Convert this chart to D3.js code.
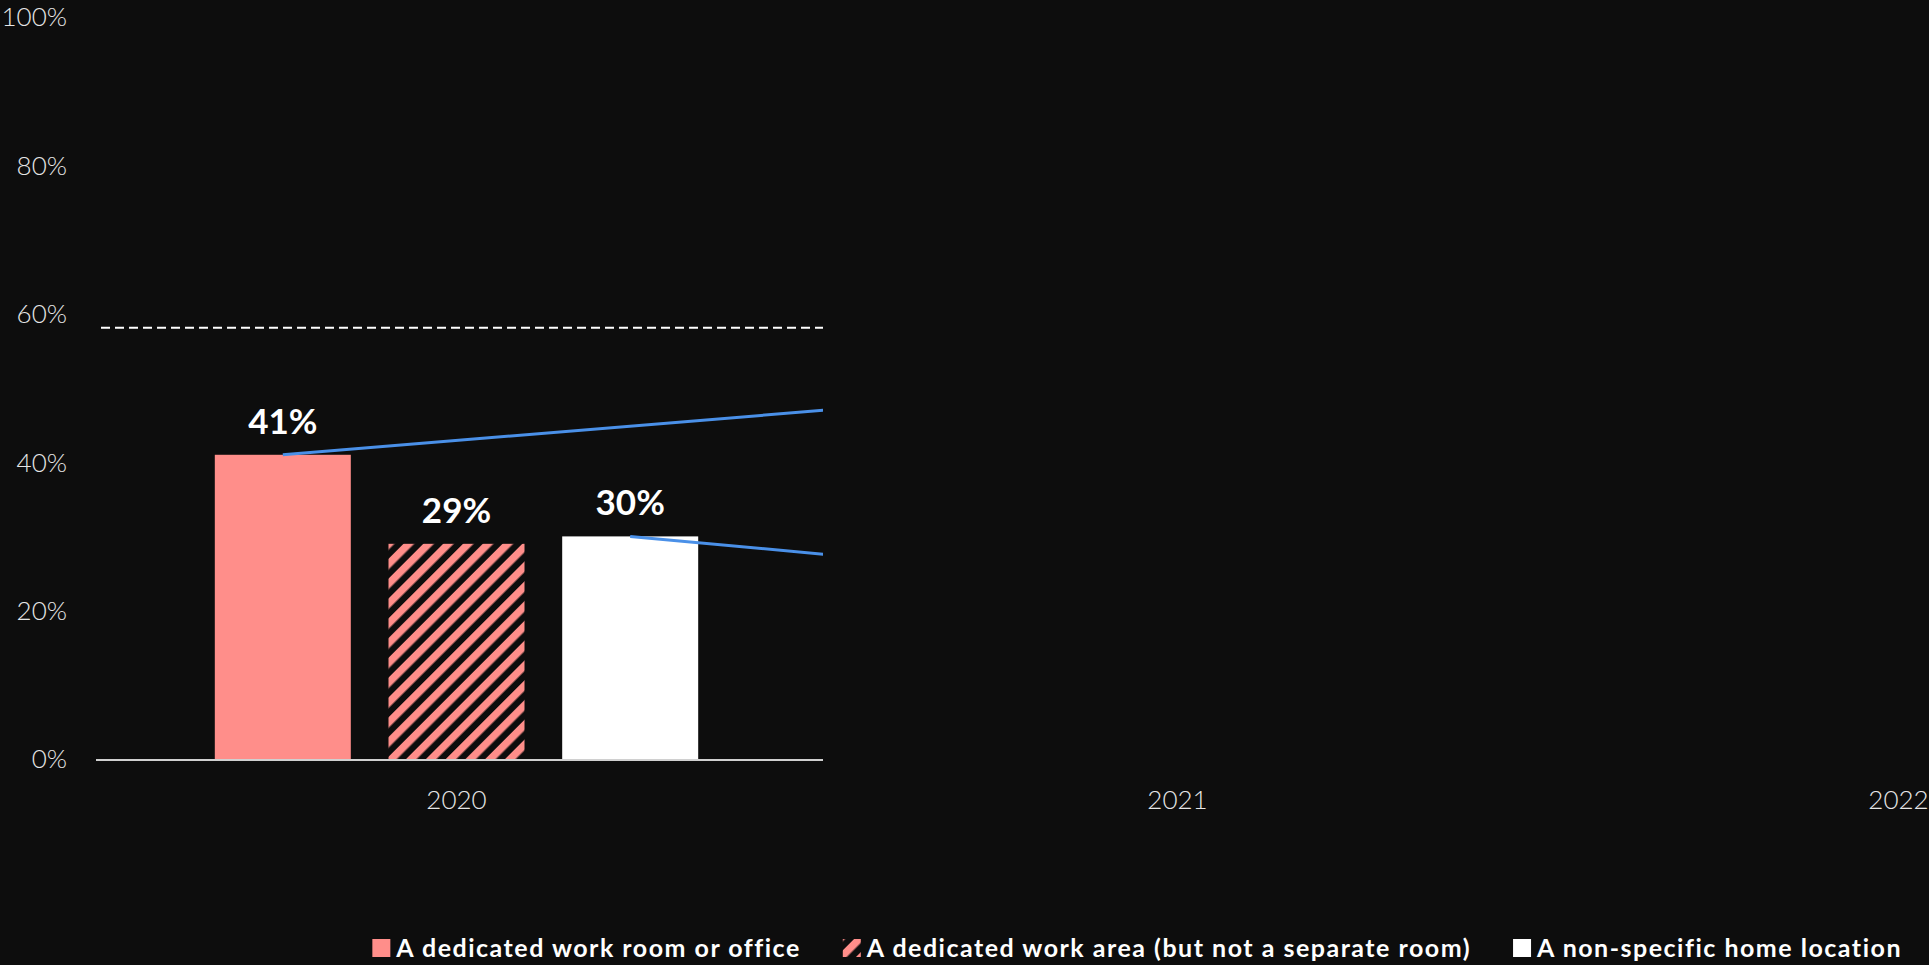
<!DOCTYPE html>
<html>
<head>
<meta charset="utf-8">
<script src="https://cdn.jsdelivr.net/npm/d3@7"></script>
<style>
  html, body { margin: 0; padding: 0; background: #0d0d0d; }
  svg { display: block; }
</style>
</head>
<body>
<svg id="chart" width="1929" height="965"></svg>
<script>
// Where people work from home, by year
const years = ["2020", "2021", "2022"];
const seriesNames = [
  "A dedicated work room or office",
  "A dedicated work area (but not a separate room)",
  "A non-specific home location"
];
const values2020 = [41, 29, 30];
// Year-over-year trend lines (2020 -> 2021)
const trendRoom = [41, 49];
const trendNonSpecific = [30, 21];
const referenceLevel = 58;
const yTicks = [0, 20, 40, 60, 80, 100];

const W = 1929, H = 965;
const colors = ["#ff8e8a", "url(#hatch)", "#ffffff"];
const fontFamily = "Lato, 'Open Sans', sans-serif";

const svg = d3.select("#chart");
svg.append("rect").attr("width", W).attr("height", H).attr("fill", "#0d0d0d");

const defs = svg.append("defs");
const pat = defs.append("pattern")
  .attr("id", "hatch")
  .attr("patternUnits", "userSpaceOnUse")
  .attr("width", 14).attr("height", 14)
  .attr("patternTransform", "rotate(45)");
pat.append("rect").attr("width", 14).attr("height", 14).attr("fill", "#0d0d0d");
pat.append("rect").attr("x", 0).attr("width", 7.5).attr("height", 14).attr("fill", "#ff8e8a");

const plotLeft = 96, bandStep = 721, revealRight = 823;
defs.append("clipPath").attr("id", "reveal")
  .append("rect").attr("x", 0).attr("y", 0).attr("width", revealRight).attr("height", H);

const x0 = d3.scaleBand().domain(years).range([plotLeft, plotLeft + bandStep * years.length]).padding(0);
const x1 = d3.scaleBand().domain(seriesNames).range([0, x0.bandwidth()])
  .paddingInner(0.217).paddingOuter(0.684);
const y = d3.scaleLinear().domain([0, 100]).range([759, 17]);

// Y tick labels
svg.append("g").selectAll("text").data(yTicks).join("text")
  .attr("x", 67).attr("y", d => y(d))
  .attr("dy", "0.36em")
  .attr("text-anchor", "end")
  .attr("font-family", fontFamily).attr("font-weight", 300)
  .attr("font-size", 26).attr("fill", "#e6e6e6")
  .text(d => d + "%");

// X tick labels
svg.append("g").selectAll("text").data(years).join("text")
  .attr("x", d => x0(d) + x0.bandwidth() / 2).attr("y", 809)
  .attr("text-anchor", "middle")
  .attr("font-family", fontFamily).attr("font-weight", 300)
  .attr("font-size", 26).attr("fill", "#e6e6e6")
  .text(d => d);

const plot = svg.append("g").attr("clip-path", "url(#reveal)");

// Reference level
plot.append("line")
  .attr("x1", x0.range()[0]).attr("x2", x0.range()[1])
  .attr("y1", y(referenceLevel) - 1).attr("y2", y(referenceLevel) - 1)
  .attr("stroke", "#ffffff").attr("stroke-width", 2)
  .attr("stroke-dasharray", "9,5").attr("stroke-dashoffset", 9);

// Bars for 2020
const bars = plot.append("g").attr("transform", `translate(${x0("2020")},0)`);
bars.selectAll("rect").data(values2020).join("rect")
  .attr("x", (d, i) => x1(seriesNames[i]))
  .attr("width", x1.bandwidth())
  .attr("y", d => y(d))
  .attr("height", d => y(0) - y(d))
  .attr("fill", (d, i) => colors[i]);

// Axis baseline
plot.append("line")
  .attr("x1", x0.range()[0]).attr("x2", x0.range()[1])
  .attr("y1", y(0) + 1).attr("y2", y(0) + 1)
  .attr("stroke", "#d0d0d0").attr("stroke-width", 2);

// Trend lines
const line = d3.line()
  .x(d => d.x)
  .y(d => y(d.v));
function trend(values, seriesIdx) {
  return values.map((v, i) => ({
    x: x0(years[i]) + x1(seriesNames[seriesIdx]) + x1.bandwidth() / 2,
    v
  }));
}
plot.append("path").datum(trend(trendRoom, 0))
  .attr("d", line).attr("fill", "none")
  .attr("stroke", "#4a90e8").attr("stroke-width", 3);
plot.append("path").datum(trend(trendNonSpecific, 2))
  .attr("d", line).attr("fill", "none")
  .attr("stroke", "#4a90e8").attr("stroke-width", 3);

// Value labels
bars.selectAll("text").data(values2020).join("text")
  .attr("x", (d, i) => x1(seriesNames[i]) + x1.bandwidth() / 2)
  .attr("y", d => y(d) - 21)
  .attr("text-anchor", "middle")
  .attr("font-family", fontFamily).attr("font-weight", 700)
  .attr("font-size", 35).attr("fill", "#ffffff")
  .text(d => d + "%");

// Legend, right-aligned
const legend = svg.append("g");
const legendRight = 1902, legendY = 948, sw = 18, swGap = 6, itemGap = 42;
const items = seriesNames.map((name, i) => {
  const g = legend.append("g");
  g.append("rect").attr("width", sw).attr("height", sw)
    .attr("y", legendY - sw / 2).attr("fill", colors[i]);
  const t = g.append("text")
    .attr("x", sw + swGap).attr("y", legendY).attr("dy", "0.35em")
    .attr("font-family", fontFamily).attr("font-weight", 700)
    .attr("font-size", 25).attr("letter-spacing", "1.5px").attr("fill", "#ffffff")
    .text(name);
  return { g, w: sw + swGap + t.node().getComputedTextLength() };
});
let cursor = legendRight;
for (let i = items.length - 1; i >= 0; i--) {
  cursor -= items[i].w;
  items[i].g.attr("transform", `translate(${cursor},0)`);
  cursor -= itemGap;
}
</script>
</body>
</html>
